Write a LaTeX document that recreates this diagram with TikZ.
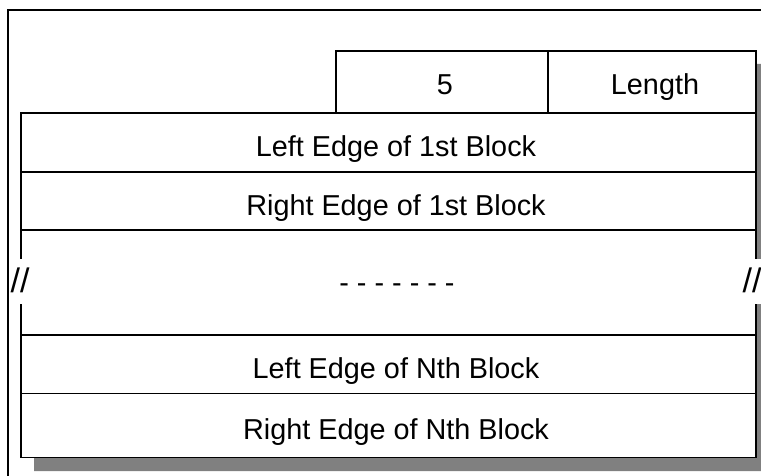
\documentclass[tikz,border=0pt]{standalone}
\usepackage{fontspec}
\setmainfont{Liberation Sans}
\begin{document}
\begin{tikzpicture}[x=1pt,y=-1pt,
  txt/.style={font=\fontsize{28.8}{34}\selectfont,anchor=base,inner sep=0pt},
  slash/.style={font=\fontsize{34}{40}\selectfont,anchor=base,inner sep=0pt},
  cell/.style={draw=black,line width=1.8pt,fill=white,rectangle,inner sep=0pt},
  cover/.style={fill=white,inner sep=0pt,draw=none},
  shadowc/.style={fill=black!50,draw=none}]
\useasboundingbox (0,0) rectangle (761,476);
\clip (0,0) rectangle (761,476);
% outer frame
\draw[line width=1.3pt] (8,10) rectangle (790,500);
% shadow
\fill[shadowc] (349,64) -- (775,64) -- (775,471) -- (34,471) -- (34,126) -- (349,126) -- cycle;
% top cells
\node[cell,minimum width=212pt,minimum height=62pt] (five) at (442,82) {};
\node[cell,minimum width=208pt,minimum height=62pt] (len) at (652,82) {};
% rows
\node[cell,minimum width=735pt,minimum height=59pt] (r1) at (388.5,142.5) {};
\node[cell,minimum width=735pt,minimum height=58pt] (r2) at (388.5,201) {};
\node[cell,minimum width=735pt,minimum height=105pt] (gap) at (388.5,282.5) {};
\node[cell,minimum width=735pt,minimum height=59pt] (r4) at (388.5,364.5) {};
\node[cell,minimum width=735pt,minimum height=64pt] (r5) at (388.5,425.5) {};
% break covers
\node[cover,minimum width=18pt,minimum height=45pt] (bl) at (21,281.5) {};
\node[cover,minimum width=30pt,minimum height=45pt] (br) at (755,281.5) {};
% texts
\node[txt] (t5) at (445,95) {5};
\node[txt] (tl) at (655,95) {Length};
\node[txt] (t1) at (396,157) {Left Edge of 1st Block};
\node[txt] (t2) at (396,215.5) {Right Edge of 1st Block};
\node[txt] (t3) at (397,292) {- - - - - - -};
\node[txt] (t4) at (396,378.5) {Left Edge of Nth Block};
\node[txt] (t6) at (396,439.5) {Right Edge of Nth Block};
\node[slash] (sl) at (20,292) {//};
\node[slash] (sr) at (752,292) {//};
\end{tikzpicture}
\end{document}
